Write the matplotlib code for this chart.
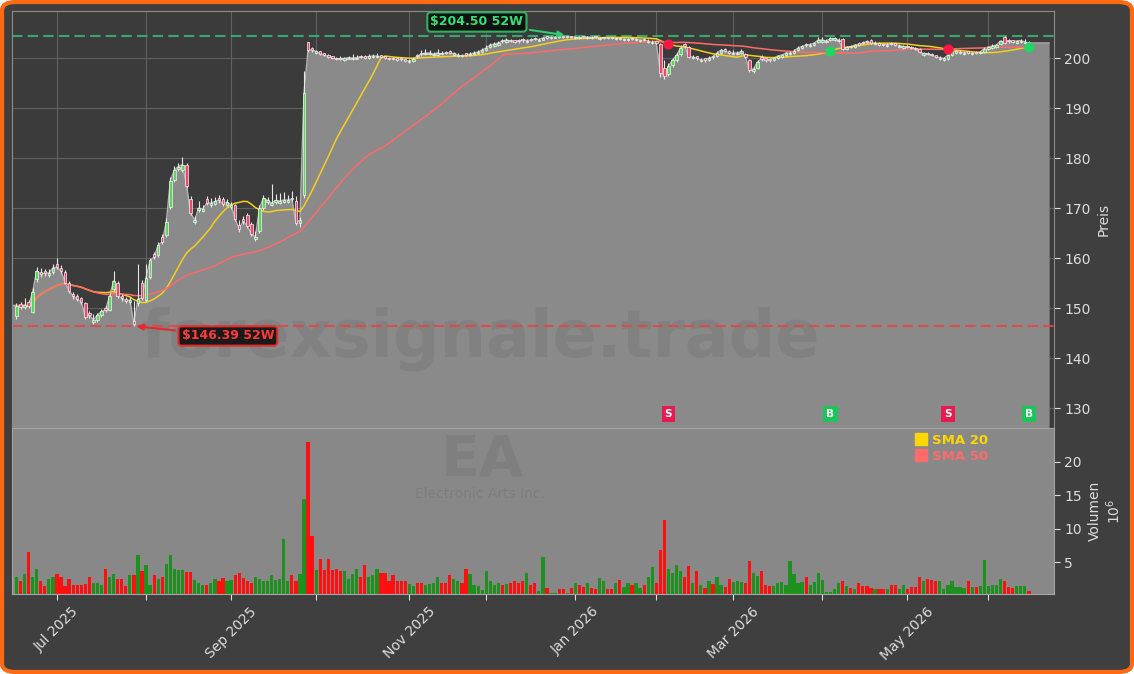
import matplotlib
matplotlib.use('Agg')
import matplotlib.pyplot as plt
import matplotlib.transforms as mtransforms
from matplotlib.patches import FancyBboxPatch
from matplotlib.lines import Line2D
from matplotlib.ticker import MultipleLocator
import numpy as np
import pandas as pd

# --- Daten: EA, Handelstage 16.06.2025 - 15.06.2026 ---
holidays = ['2025-06-19', '2025-07-04', '2025-09-01', '2025-11-27', '2025-12-25',
            '2026-01-01', '2026-01-19', '2026-02-16', '2026-04-03', '2026-05-25']
dates = pd.bdate_range('2025-06-16', '2026-06-15', freq='C', holidays=holidays)

open_ = [
    148.4, 150.8, 150.2, 151.3, 149.2, 155.8, 157.3, 157.4, 156.6, 157.2,
    158.8, 158.0, 157.2, 155.0, 152.8, 152.4, 151.9, 151.0, 148.9, 147.3,
    147.6, 148.6, 149.9, 149.6, 153.8, 155.0, 152.4, 151.8, 151.2, 147.4,
    151.0, 155.0, 151.6, 156.2, 160.8, 160.6, 164.2, 164.6, 170.2, 175.6,
    177.8, 177.6, 178.7, 171.8, 167.2, 169.6, 169.5, 171.8, 170.6, 170.9,
    171.9, 171.8, 170.7, 170.2, 170.6, 166.6, 167.8, 168.6, 166.8, 163.8,
    165.4, 170.0, 171.2, 170.7, 171.2, 171.1, 171.3, 171.3, 172.1, 171.4,
    167.0, 172.6, 203.2, 201.9, 201.1, 201.3, 200.9, 200.6, 200.3, 200.1,
    200.1, 199.7, 199.9, 199.8, 199.9, 200.4, 200.4, 200.1, 200.2, 200.2,
    200.5, 200.3, 200.1, 200.1, 199.9, 200.0, 199.8, 199.2, 199.5, 200.6,
    201.0, 200.8, 200.8, 200.6, 200.7, 201.1, 201.2, 201.3, 200.7, 200.4,
    200.7, 200.9, 200.6, 200.8, 201.0, 201.3, 201.7, 202.2, 202.5, 202.7,
    203.6, 203.3, 203.7, 203.5, 203.6, 203.8, 203.3, 203.8, 204.0, 203.5,
    203.7, 204.3, 204.0, 204.1, 204.4, 204.4, 204.2, 204.35, 204.05, 204.25,
    204.3, 204.05, 204.25, 204.3, 203.85, 203.95, 204.15, 204.15, 203.75, 204.05,
    203.65, 203.65, 204.05, 203.65, 203.45, 203.8, 203.25, 203.05, 203.3, 202.8,
    198.0, 196.8, 198.6, 199.6, 200.8, 202.8, 202.2, 200.0, 200.3, 199.4,
    199.9, 199.7, 200.4, 200.4, 201.0, 201.9, 201.3, 200.8, 200.8, 201.0,
    200.8, 199.6, 197.4, 198.0, 200.2, 199.9, 199.8, 199.7, 200.1, 200.3,
    200.7, 200.8, 201.1, 201.6, 202.0, 202.8, 202.5, 202.7, 203.2, 203.3,
    203.2, 203.6, 203.7, 203.4, 203.8, 201.9, 202.4, 202.3, 202.9, 203.2,
    203.5, 203.6, 202.8, 203.0, 202.8, 202.5, 203.0, 202.9, 202.3, 202.1,
    202.4, 202.2, 202.1, 201.8, 200.7, 201.0, 200.8, 200.5, 199.9, 199.7,
    199.9, 200.6, 201.1, 201.0, 200.9, 201.3, 200.8, 201.2, 201.0, 201.3,
    201.9, 202.1, 202.3, 202.8, 204.2, 203.6, 203.5, 203.1, 203.3, 203.0,
    203.2]

high = [
    151.0, 151.3, 152.0, 151.6, 154.0, 158.2, 158.0, 157.9, 157.8, 158.9,
    160.0, 158.6, 157.6, 155.4, 153.3, 152.8, 152.2, 151.3, 149.5, 148.8,
    149.0, 149.8, 150.7, 153.0, 157.5, 155.4, 152.9, 152.2, 152.2, 151.4,
    158.9, 155.6, 158.9, 160.0, 161.2, 163.2, 164.8, 168.0, 176.2, 178.4,
    179.0, 180.2, 179.0, 172.4, 168.4, 171.5, 170.6, 172.4, 172.0, 172.2,
    172.6, 172.2, 171.8, 171.2, 170.9, 167.6, 168.4, 169.0, 167.2, 165.4,
    170.6, 172.6, 172.2, 174.8, 172.8, 173.0, 173.2, 172.6, 173.4, 172.4,
    168.2, 197.4, 203.3, 202.2, 201.7, 201.5, 201.1, 200.8, 200.5, 200.3,
    200.4, 200.2, 200.5, 200.8, 200.6, 200.7, 200.6, 200.8, 200.9, 201.0,
    200.7, 200.5, 200.3, 200.3, 200.1, 200.2, 200.0, 199.8, 200.2, 200.9,
    201.6, 201.8, 201.6, 201.3, 201.8, 201.4, 201.5, 201.6, 201.3, 201.0,
    200.9, 201.1, 201.2, 201.4, 201.6, 202.0, 202.6, 203.0, 203.2, 203.4,
    203.9, 204.0, 203.9, 203.7, 203.8, 204.0, 203.9, 204.0, 204.2, 204.0,
    204.3, 204.4, 204.4, 204.4, 204.4, 204.45, 204.5, 204.45, 204.4, 204.4,
    204.4, 204.4, 204.35, 204.4, 204.3, 204.3, 204.3, 204.3, 204.2, 204.2,
    204.1, 204.1, 204.2, 204.0, 203.9, 203.95, 203.8, 203.6, 203.5, 203.0,
    199.6, 199.0, 200.0, 201.0, 202.6, 203.0, 202.4, 200.6, 200.5, 200.0,
    200.1, 200.4, 200.6, 201.4, 201.9, 202.0, 201.6, 201.6, 201.5, 201.8,
    201.0, 199.9, 198.2, 199.6, 200.6, 200.1, 200.0, 200.3, 200.7, 200.9,
    201.3, 201.4, 201.8, 202.4, 202.6, 203.0, 203.0, 203.3, 204.3, 204.2,
    203.9, 204.2, 204.2, 204.0, 204.0, 202.5, 202.6, 202.9, 203.2, 203.4,
    203.7, 203.8, 203.4, 203.2, 203.0, 203.0, 203.2, 203.1, 202.8, 202.6,
    202.6, 202.4, 202.3, 202.0, 201.2, 201.2, 201.0, 200.7, 200.4, 200.2,
    200.8, 201.4, 201.7, 201.6, 201.5, 201.5, 201.3, 201.4, 201.5, 202.2,
    202.5, 202.8, 202.9, 203.7, 204.4, 203.8, 203.7, 203.7, 203.9, 203.8,
    203.5]

low = [
    147.8, 149.8, 149.8, 150.0, 149.0, 155.2, 156.2, 156.5, 156.2, 156.9,
    157.8, 157.0, 154.8, 153.0, 151.9, 151.4, 150.8, 147.9, 148.0, 146.9,
    147.3, 148.3, 149.2, 149.4, 153.4, 152.0, 151.5, 151.0, 150.9, 146.39,
    150.5, 151.6, 151.2, 155.8, 159.8, 160.2, 162.8, 164.2, 169.8, 175.2,
    177.4, 177.3, 174.0, 168.6, 166.8, 169.2, 169.2, 170.6, 170.3, 170.6,
    171.0, 170.4, 170.4, 169.9, 167.4, 165.2, 166.8, 166.0, 164.4, 163.4,
    165.0, 169.6, 170.9, 170.4, 170.9, 170.8, 171.0, 171.0, 171.4, 166.6,
    166.2, 172.0, 201.2, 201.3, 200.9, 200.7, 200.4, 200.1, 199.8, 199.6,
    199.7, 199.5, 199.8, 199.6, 199.8, 200.0, 199.9, 199.9, 200.0, 200.0,
    200.0, 199.8, 199.6, 199.7, 199.4, 199.5, 199.3, 199.0, 199.3, 200.1,
    200.5, 200.6, 200.6, 200.4, 200.5, 200.6, 200.8, 200.8, 200.5, 200.2,
    200.2, 200.4, 200.4, 200.6, 200.8, 201.1, 201.5, 202.0, 202.3, 202.5,
    203.1, 203.1, 203.2, 203.0, 203.1, 203.3, 203.1, 203.4, 203.6, 203.4,
    203.6, 203.9, 203.9, 204.0, 204.1, 204.1, 204.1, 204.0, 203.9, 203.9,
    204.0, 203.9, 203.9, 204.0, 203.7, 203.8, 203.8, 203.8, 203.6, 203.7,
    203.5, 203.5, 203.7, 203.5, 203.3, 203.4, 203.1, 202.9, 202.8, 196.2,
    195.8, 196.5, 198.3, 199.3, 200.5, 202.0, 200.0, 199.8, 199.7, 199.2,
    199.3, 199.5, 199.9, 200.2, 200.8, 201.2, 200.8, 200.6, 200.6, 200.8,
    200.0, 197.2, 197.0, 197.8, 199.4, 199.3, 199.3, 199.5, 199.9, 200.1,
    200.5, 200.6, 200.9, 201.4, 201.8, 202.3, 202.3, 202.5, 203.0, 203.1,
    203.0, 203.4, 203.5, 203.2, 201.6, 201.7, 202.0, 202.1, 202.5, 202.8,
    203.0, 202.8, 202.6, 202.5, 202.4, 202.3, 202.6, 202.5, 202.1, 201.9,
    202.0, 201.8, 201.7, 201.0, 200.5, 200.6, 200.4, 200.0, 199.7, 199.5,
    199.7, 200.4, 200.9, 200.8, 200.7, 200.8, 200.6, 200.8, 200.8, 201.1,
    201.7, 201.9, 202.1, 202.6, 202.8, 203.1, 203.0, 202.9, 203.1, 202.9,
    202.8]

close = [
    150.5, 150.3, 150.6, 150.4, 153.2, 157.4, 156.8, 157.0, 157.0, 158.0,
    158.2, 157.4, 155.1, 153.4, 152.4, 151.8, 151.2, 148.2, 148.6, 147.6,
    148.6, 149.3, 149.6, 152.4, 155.4, 152.4, 152.0, 151.4, 151.6, 146.8,
    151.8, 152.0, 156.0, 159.5, 160.2, 162.6, 163.2, 167.2, 175.4, 177.6,
    178.3, 178.7, 174.5, 169.0, 167.6, 170.0, 169.8, 171.0, 171.0, 171.3,
    171.6, 170.8, 171.2, 170.6, 167.8, 165.8, 167.4, 166.4, 164.8, 164.2,
    170.0, 172.0, 171.5, 171.0, 171.5, 171.4, 171.6, 171.6, 171.8, 167.0,
    167.6, 193.0, 201.6, 201.6, 201.3, 200.9, 200.6, 200.3, 200.0, 199.8,
    199.9, 199.9, 200.1, 200.0, 200.1, 200.2, 200.1, 200.3, 200.4, 200.4,
    200.2, 200.0, 199.8, 199.9, 199.6, 199.8, 199.5, 199.4, 199.8, 200.4,
    200.8, 201.0, 201.0, 200.8, 201.0, 200.8, 201.0, 201.0, 200.9, 200.6,
    200.4, 200.6, 200.8, 201.0, 201.2, 201.6, 202.0, 202.6, 202.8, 203.0,
    203.4, 203.6, 203.4, 203.2, 203.4, 203.6, 203.5, 203.6, 203.8, 203.7,
    204.0, 204.1, 204.2, 204.2, 204.3, 204.3, 204.4, 204.2, 204.2, 204.1,
    204.2, 204.2, 204.1, 204.2, 204.0, 204.1, 204.0, 204.0, 203.9, 203.9,
    203.8, 203.8, 203.9, 203.8, 203.6, 203.6, 203.4, 203.2, 203.0, 197.0,
    196.4, 198.4, 199.6, 200.6, 202.0, 202.4, 200.2, 200.2, 200.0, 199.6,
    199.6, 200.0, 200.2, 201.0, 201.6, 201.4, 201.0, 201.0, 201.0, 201.3,
    200.2, 197.6, 197.8, 199.2, 199.9, 199.6, 199.6, 200.0, 200.4, 200.6,
    201.0, 201.0, 201.4, 202.0, 202.3, 202.6, 202.7, 203.0, 203.6, 203.6,
    203.4, 203.9, 203.9, 203.6, 201.8, 202.2, 202.2, 202.6, 202.7, 203.0,
    203.3, 203.0, 203.0, 202.7, 202.6, 202.7, 202.8, 202.7, 202.5, 202.3,
    202.2, 202.0, 201.9, 201.2, 200.9, 200.8, 200.6, 200.2, 200.1, 199.9,
    200.6, 201.2, 201.4, 201.2, 201.1, 201.0, 201.0, 201.0, 201.2, 201.9,
    202.2, 202.4, 202.6, 203.4, 203.0, 203.4, 203.2, 203.4, 203.5, 203.2,
    203.0]

# Volumen in Mio. Stück
volume = [
    2.8, 2.3, 3.3, 6.5, 2.8, 4.0, 2.3, 1.5, 2.5, 2.8,
    3.3, 2.9, 1.5, 2.5, 1.7, 1.7, 1.7, 1.8, 2.9, 2.0,
    1.9, 1.7, 4.0, 2.9, 3.3, 2.5, 2.5, 1.5, 3.1, 3.2,
    6.1, 3.7, 4.6, 1.7, 3.1, 2.5, 2.9, 4.8, 6.1, 4.0,
    3.9, 3.9, 3.6, 3.6, 2.4, 2.0, 1.6, 1.6, 2.0, 2.5,
    2.2, 2.7, 2.2, 2.4, 3.1, 3.5, 2.7, 2.2, 2.0, 2.9,
    2.5, 2.2, 2.2, 3.2, 2.4, 2.5, 8.5, 2.3, 3.1, 2.2,
    3.3, 14.5, 23.0, 9.0, 3.9, 5.5, 3.9, 5.5, 3.9, 4.0,
    3.8, 3.7, 2.5, 3.3, 4.1, 2.8, 4.6, 2.8, 3.1, 4.1,
    3.4, 3.4, 2.3, 3.1, 2.2, 2.3, 2.2, 1.8, 1.5, 2.0,
    2.0, 1.7, 1.8, 2.0, 2.9, 2.0, 2.0, 3.1, 2.5, 2.2,
    1.9, 4.1, 3.3, 1.7, 1.5, 0.9, 3.7, 2.3, 1.7, 2.0,
    1.6, 1.8, 2.0, 2.3, 2.0, 2.2, 3.4, 1.6, 2.0, 0.7,
    5.8, 1.2, 0.4, 0.5, 1.0, 1.1, 0.5, 1.2, 1.9, 1.7,
    1.35, 1.9, 1.2, 1.1, 2.7, 2.2, 1.1, 1.1, 2.0, 2.4,
    1.35, 1.9, 1.6, 1.9, 1.2, 1.7, 2.8, 4.4, 1.9, 6.8,
    11.4, 4.1, 3.5, 4.6, 3.7, 2.8, 4.5, 1.9, 3.8, 1.7,
    1.2, 2.2, 1.8, 2.8, 1.7, 1.35, 2.6, 2.1, 2.2, 2.1,
    1.9, 5.2, 3.4, 3.0, 3.7, 1.7, 1.5, 1.5, 1.9, 2.1,
    1.6, 5.2, 3.3, 1.9, 2.1, 2.8, 1.7, 2.1, 3.5, 2.4,
    0.6, 0.6, 1.1, 1.9, 2.3, 1.5, 1.2, 1.1, 1.9, 1.5,
    1.5, 1.2, 1.0, 1.1, 1.1, 1.0, 1.6, 1.6, 1.1, 1.6,
    1.1, 1.35, 1.35, 2.8, 2.2, 2.6, 2.4, 2.2, 2.2, 1.0,
    1.6, 2.2, 1.35, 1.35, 1.2, 2.3, 1.35, 1.35, 1.5, 5.3,
    1.5, 1.7, 1.6, 2.6, 2.3, 1.35, 1.2, 1.5, 1.5, 1.5,
    0.8]

# Kreuzungssignale SMA 20 / SMA 50 (Index des Handelstags)
signal_idx = [161, 201, 230, 250]
signal_type = ['S', 'B', 'S', 'B']

o = np.array(open_)
h = np.array(high)
l = np.array(low)
c = np.array(close)
v = np.array(volume)
x = np.arange(len(c))
up = c >= o

sma20 = pd.Series(c).rolling(20, min_periods=1).mean().values
sma50 = pd.Series(c).rolling(50, min_periods=1).mean().values

hi_i = int(np.argmax(h))
lo_i = int(np.argmin(l))

# --- Figur ---
fig = plt.figure(figsize=(11.34, 6.74), dpi=100)
fig.patch.set_facecolor('white')
fig.add_artist(FancyBboxPatch((0.0018, 0.003), 0.9964, 0.994,
                              boxstyle='round,pad=0,rounding_size=0.012',
                              transform=fig.transFigure, facecolor='#3f3f3f',
                              edgecolor='#ff6a13', linewidth=3, zorder=-10))

ax = fig.add_axes([12 / 1134, 246 / 674, 1042 / 1134, 417 / 674])
axv = fig.add_axes([12 / 1134, 80 / 674, 1042 / 1134, 166 / 674], sharex=ax)
ax.set_facecolor('#3b3b3b')
axv.set_facecolor('#888888')

# Preisfläche (bis an beide Ränder gezogen)
xf = np.r_[x[0] - 2, x, x[-1] + 5]
cf = np.r_[c[0], c, c[-1]]
ax.fill_between(xf, cf, 100, color='#8a8a8a', lw=0, zorder=1)
ax.plot(xf, cf, color='#b4b4b4', lw=1, zorder=2)

ax.text(0.45, 0.215, 'forexsignale.trade', transform=ax.transAxes, fontsize=47,
        fontweight='bold', color='#555555', alpha=0.17, ha='center', va='center', zorder=2.2)

ax.axhline(h[hi_i], color='#3cb371', lw=1.5, ls=(0, (5, 2.5)), alpha=0.9, zorder=2.5)
ax.axhline(l[lo_i], color='#e04848', lw=1.5, ls=(0, (5, 2.5)), alpha=0.9, zorder=2.5)

ax.plot(x, sma20, color='#f5cf1c', lw=1.1, zorder=3)
ax.plot(x, sma50, color='#ff6b6b', lw=1.1, zorder=3)

# Kerzen
ax.vlines(x, l, h, color='#e6e6e6', lw=0.8, zorder=4)
body = np.maximum(np.abs(c - o), 0.12)
ax.bar(x, body, bottom=np.minimum(o, c), width=0.6,
       color=np.where(up, '#5bd65b', '#f0476f'), edgecolor='#f2f2f2',
       linewidth=0.5, zorder=5)

# Signale
trans = mtransforms.blended_transform_factory(ax.transData, ax.transAxes)
for i, t in zip(signal_idx, signal_type):
    col = '#ff1744' if t == 'S' else '#1ed760'
    bcol = '#e8194e' if t == 'S' else '#1dc45a'
    ax.scatter(i, sma20[i], s=40, color=col, zorder=6)
    ax.text(i, 0.034, t, transform=trans, fontsize=7.5, fontweight='bold', color='white',
            ha='center', va='center', zorder=6,
            bbox=dict(boxstyle='square,pad=0.3', fc=bcol, ec='none'))

# 52W Hoch / Tief
ax.annotate(r'\$' + f'{h[hi_i]:.2f} 52W', xy=(hi_i, h[hi_i]), xytext=(113.7, 207.2),
            fontsize=9, fontweight='bold', color='#35e07a', ha='center', va='center', zorder=7,
            bbox=dict(boxstyle='round,pad=0.25', fc='#111111', ec='#2db360', lw=1.5),
            arrowprops=dict(arrowstyle='-|>', color='#2ecc71', lw=1.5))
ax.annotate(r'\$' + f'{l[lo_i]:.2f} 52W', xy=(lo_i, l[lo_i]), xytext=(52.2, 144.4),
            fontsize=9, fontweight='bold', color='#ff3b3b', ha='center', va='center', zorder=7,
            bbox=dict(boxstyle='round,pad=0.25', fc='#1a1a1a', ec='#e02c2c', lw=1.5),
            arrowprops=dict(arrowstyle='-|>', color='#e02c2c', lw=1.5))

# Volumen
axv.bar(x, v, width=0.8, color=np.where(up, '#1e901e', '#ff1010'), zorder=2)
axv.text(0.451, 0.80, 'EA', transform=axv.transAxes, fontsize=41, fontweight='bold',
         color='#555555', alpha=0.17, ha='center', va='center', zorder=1)
axv.text(0.449, 0.60, 'Electronic Arts Inc.', transform=axv.transAxes, fontsize=10,
         color='#555555', alpha=0.22, ha='center', va='center', zorder=1)

handles = [Line2D([], [], marker='s', ls='', color='#ffd700', markersize=8),
           Line2D([], [], marker='s', ls='', color='#ff6b6b', markersize=8)]
leg = axv.legend(handles, ['SMA 20', 'SMA 50'], loc='upper left',
                 bbox_to_anchor=(908 / 1134, 1 - 427 / 674), bbox_transform=fig.transFigure,
                 frameon=False, prop={'weight': 'bold', 'size': 9.5},
                 handletextpad=0.3, labelspacing=0.25, handlelength=1.0, borderpad=0)
for txt, col in zip(leg.get_texts(), ['#ffd700', '#ff6b6b']):
    txt.set_color(col)

# Achsen
ax.set_xlim(-1.1, 256.2)
ax.set_ylim(126, 209.4)
axv.set_ylim(0.3, 25.05)

month_starts = np.flatnonzero(np.r_[False, dates.month[1:] != dates.month[:-1]])
labels = [d.strftime('%b %Y') if d.month % 2 == 1 else '' for d in dates[month_starts]]
axv.set_xticks(month_starts)
axv.set_xticklabels(labels, rotation=45)
axv.tick_params(axis='x', colors='#dddddd', labelsize=10, length=4)
ax.tick_params(axis='x', length=0, labelbottom=False)

ax.yaxis.tick_right()
ax.yaxis.set_major_locator(MultipleLocator(10))
ax.tick_params(axis='y', colors='#dddddd', labelsize=10, length=4)
ax.yaxis.set_label_position('right')
ax.set_ylabel('Preis', color='#dddddd', fontsize=10)

axv.yaxis.tick_right()
axv.set_yticks([5, 10, 15, 20])
axv.tick_params(axis='y', colors='#dddddd', labelsize=10, length=4)
axv.yaxis.set_label_position('right')
axv.set_ylabel('Volumen\n$10^6$', color='#dddddd', fontsize=10)

ax.grid(True, color='#606060', lw=0.8)
ax.set_axisbelow(True)
for s in ax.spines.values():
    s.set_color('#8c8c8c')
for s in axv.spines.values():
    s.set_color('#a5a5a5')

fig.savefig('out.png', dpi=100, facecolor=fig.get_facecolor())
